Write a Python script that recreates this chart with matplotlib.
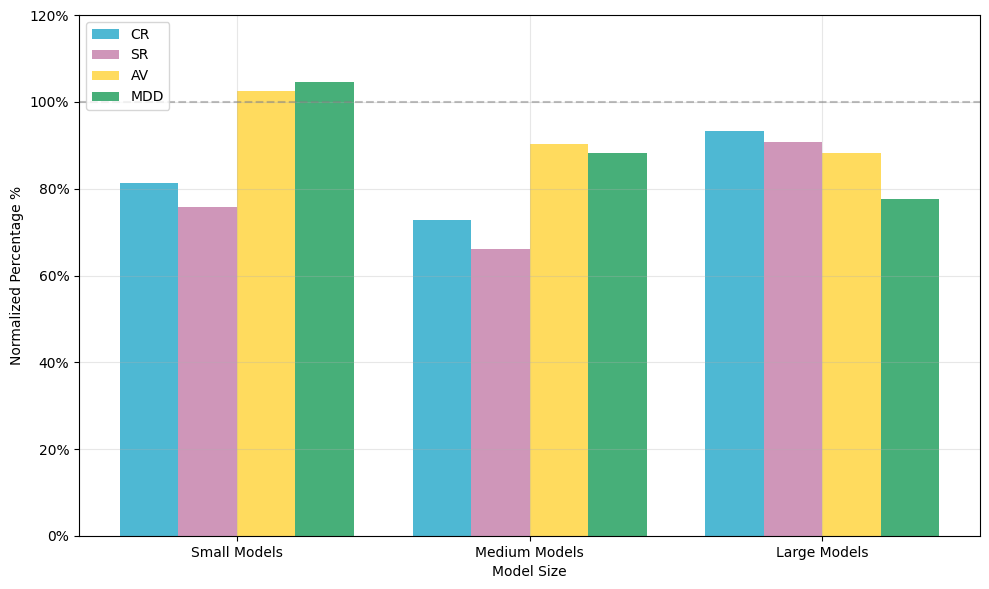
import numpy as np
import matplotlib.pyplot as plt
from matplotlib.ticker import PercentFormatter

# Podaci
groups = ['Small Models', 'Medium Models', 'Large Models']
metrics = ['CR', 'SR', 'AV', 'MDD']
cr = [81.4, 72.8, 93.3]
sr = [75.7, 66.1, 90.7]
av = [102.6, 90.3, 88.2]
mdd = [104.5, 88.2, 77.6]
colors = ['#22a6c8', '#c37ca8', '#ffd336', '#199b58']

values = [cr, sr, av, mdd]
x = np.arange(len(groups))
w = 0.2

fig, ax = plt.subplots(figsize=(9.89, 5.89), dpi=100)
for k, (vals, name) in enumerate(zip(values, metrics)):
    ax.bar(x + (k - 1.5) * w, vals, w, color=colors[k], alpha=0.8, label=name)

ax.axhline(100, color='gray', linestyle='--', alpha=0.5)
ax.set_ylim(0, 120)
ax.yaxis.set_major_formatter(PercentFormatter(decimals=0))
ax.set_xticks(x)
ax.set_xticklabels(groups)
ax.set_xlabel('Model Size')
ax.set_ylabel('Normalized Percentage %')
ax.legend(loc='upper left')
ax.grid(True, alpha=0.3)
fig.subplots_adjust(left=0.0799, right=0.9909, top=0.9745, bottom=0.09)
plt.savefig('out.png', dpi=100)
